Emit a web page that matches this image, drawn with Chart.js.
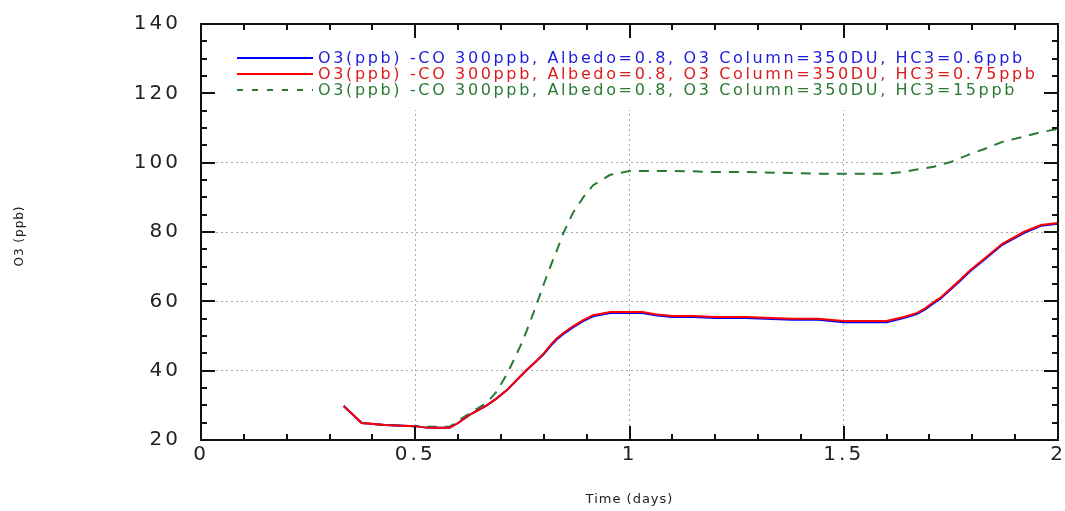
<!DOCTYPE html>
<html>
<head>
<meta charset="utf-8">
<script src="https://cdn.jsdelivr.net/npm/chart.js@4/dist/chart.umd.min.js"></script>
<style>
  html, body { margin: 0; padding: 0; background: #fff; }
  #wrap { width: 1065px; height: 511px; }
</style>
</head>
<body>
<div id="wrap"><canvas id="o3Chart" width="1065" height="511"></canvas></div>
<script>
// Time axis (days) and ozone values
const timeDays = [0.333, 0.375, 0.43, 0.5, 0.53, 0.58, 0.6, 0.63, 0.667, 0.69, 0.714, 0.745, 0.76, 0.78, 0.8, 0.82, 0.83, 0.845, 0.868, 0.892, 0.915, 0.955, 1.0, 1.03, 1.06, 1.1, 1.15, 1.2, 1.27, 1.38, 1.44, 1.5, 1.6, 1.64, 1.67, 1.69, 1.71, 1.725, 1.75, 1.77, 1.795, 1.83, 1.87, 1.92, 1.96, 2.0];

const o3Hc3Low = [29.8, 24.9, 24.3, 24.0, 23.5, 23.5, 24.9, 27.5, 30.0, 32.0, 34.4, 38.3, 40.2, 42.4, 44.8, 47.7, 49.0, 50.5, 52.5, 54.3, 55.7, 56.6, 56.6, 56.6, 56.0, 55.5, 55.5, 55.2, 55.2, 54.7, 54.7, 54.0, 54.0, 55.2, 56.3, 57.7, 59.5, 60.7, 63.5, 65.7, 68.7, 72.2, 76.3, 79.7, 81.8, 82.4];
const o3Hc3Mid = [29.8, 24.9, 24.3, 24.0, 23.5, 23.5, 24.9, 27.5, 30.0, 32.0, 34.4, 38.3, 40.2, 42.5, 45.0, 48.0, 49.3, 50.8, 52.8, 54.6, 56.0, 56.9, 56.9, 56.9, 56.3, 55.8, 55.8, 55.5, 55.5, 55.0, 55.0, 54.3, 54.3, 55.5, 56.6, 58.0, 59.8, 61.0, 63.8, 66.0, 69.0, 72.5, 76.6, 80.0, 82.0, 82.6];
const o3Hc3High = [29.8, 24.9, 24.3, 24.0, 23.8, 23.8, 25.5, 28.0, 30.7, 34.0, 39.0, 47.0, 51.5, 58.0, 65.0, 71.5, 74.5, 79.5, 85.5, 90.0, 93.5, 96.5, 97.6, 97.6, 97.6, 97.6, 97.5, 97.3, 97.3, 97.0, 96.8, 96.8, 96.8, 97.3, 98.0, 98.4, 98.8, 99.4, 100.2, 101.2, 102.5, 104.0, 106.0, 107.5, 108.8, 109.7];

const seriesLabels = [
  'O3(ppb) -CO 300ppb, Albedo=0.8, O3 Column=350DU, HC3=0.6ppb',
  'O3(ppb) -CO 300ppb, Albedo=0.8, O3 Column=350DU, HC3=0.75ppb',
  'O3(ppb) -CO 300ppb, Albedo=0.8, O3 Column=350DU, HC3=15ppb'
];

const xTicks = [0, 0.5, 1, 1.5, 2];
const yTicks = [20, 40, 60, 80, 100, 120, 140];
const xTitle = 'Time (days)';
const yTitle = 'O3 (ppb)';

const lineColors = ['#0000ff', '#ff0000', '#2a7a34'];
const textColors = ['#1c1cdc', '#dc1c1c', '#2a7a34'];
const FONT = "'DejaVu Sans', sans-serif";

const toPoints = (vals) => timeDays.map((t, i) => ({ x: t, y: vals[i] }));

// Plot frame, inward ticks, axis titles and the boxed legend
const framePlugin = {
  id: 'framePlugin',
  beforeDraw(chart) {
    chart.ctx.letterSpacing = '3px';
  },
  beforeDatasetsDraw(chart) {
    const { ctx, chartArea: a } = chart;
    ctx.save();
    ctx.fillStyle = '#ffffff';
    ctx.fillRect(a.left + 2, a.top + 2, a.right - a.left - 4, 84);
    ctx.restore();
  },
  afterDatasetsDraw(chart) {
    const { ctx } = chart;
    ctx.save();
    ctx.font = '16px ' + FONT;
    ctx.textBaseline = 'middle';
    ctx.letterSpacing = '0px';
    const w = ctx.measureText(seriesLabels[0]).width;
    const spacing = (707 - w) / seriesLabels[0].length;
    ctx.letterSpacing = spacing.toFixed(2) + 'px';
    const rows = [58, 74, 90];
    seriesLabels.forEach((label, i) => {
      ctx.strokeStyle = lineColors[i];
      ctx.lineWidth = 2;
      ctx.setLineDash(i === 2 ? [6, 9] : []);
      ctx.beginPath();
      ctx.moveTo(237, rows[i]);
      ctx.lineTo(313, rows[i]);
      ctx.stroke();
      ctx.fillStyle = textColors[i];
      ctx.fillText(label, 318, rows[i] + 1);
    });
    ctx.restore();
  },
  afterDraw(chart) {
    const { ctx, chartArea: a, scales } = chart;
    const xs = scales.x, ys = scales.y;
    ctx.save();
    ctx.strokeStyle = '#111';
    ctx.lineWidth = 2;
    ctx.setLineDash([]);
    ctx.strokeRect(a.left, a.top, a.right - a.left, a.bottom - a.top);
    ctx.beginPath();
    for (let k = 0; k <= 20; k++) {
      const px = Math.round(xs.getPixelForValue(k / 10));
      const len = k % 5 === 0 ? 14 : 6;
      ctx.moveTo(px, a.bottom); ctx.lineTo(px, a.bottom - len);
      ctx.moveTo(px, a.top); ctx.lineTo(px, a.top + len);
    }
    for (let v = 20; v <= 140; v += 5) {
      const py = Math.round(ys.getPixelForValue(v));
      const len = v % 20 === 0 ? 14 : 6;
      ctx.moveTo(a.left, py); ctx.lineTo(a.left + len, py);
      ctx.moveTo(a.right, py); ctx.lineTo(a.right - len, py);
    }
    ctx.stroke();

    // axis titles
    ctx.fillStyle = '#222';
    ctx.letterSpacing = '1px';
    ctx.textAlign = 'center';
    ctx.textBaseline = 'middle';
    ctx.font = '13px ' + FONT;
    ctx.fillText(xTitle, (a.left + a.right) / 2, 500);
    ctx.translate(20, (a.top + a.bottom) / 2 + 4);
    ctx.rotate(-Math.PI / 2);
    ctx.font = '12px ' + FONT;
    ctx.fillText(yTitle, 0, 0);
    ctx.restore();
  }
};

new Chart(document.getElementById('o3Chart'), {
  type: 'line',
  data: {
    datasets: [
      { label: seriesLabels[0], data: toPoints(o3Hc3Low), borderColor: lineColors[0], borderWidth: 2, order: 2 },
      { label: seriesLabels[1], data: toPoints(o3Hc3Mid), borderColor: lineColors[1], borderWidth: 2, order: 1 },
      { label: seriesLabels[2], data: toPoints(o3Hc3High), borderColor: lineColors[2], borderWidth: 2, borderDash: [10, 8], order: 3 }
    ]
  },
  options: {
    responsive: false,
    animation: false,
    layout: { padding: { left: 0, right: 7, top: 24, bottom: 0 } },
    elements: { point: { radius: 0 }, line: { tension: 0 } },
    plugins: { legend: { display: false }, tooltip: { enabled: false } },
    scales: {
      x: {
        type: 'linear',
        min: 0,
        max: 2,
        afterBuildTicks: (s) => { s.ticks = xTicks.map(v => ({ value: v })); },
        afterFit: (s) => { s.height = 71; s.paddingLeft = 0; s.paddingRight = 0; },
        grid: { color: '#a8a8a8', lineWidth: 1, drawTicks: false },
        border: { display: false, dash: [2, 3] },
        ticks: { color: '#222', padding: 3, font: { family: FONT, size: 20 }, callback: (v) => String(v) },
        title: { display: false }
      },
      y: {
        min: 20,
        max: 140,
        afterBuildTicks: (s) => { s.ticks = yTicks.map(v => ({ value: v })); },
        afterFit: (s) => { s.width = 201; s.paddingTop = 0; s.paddingBottom = 0; },
        grid: { color: '#a8a8a8', lineWidth: 1, drawTicks: false },
        border: { display: false, dash: [2, 3] },
        ticks: { color: '#222', padding: 20, font: { family: FONT, size: 20 }, callback: (v) => String(v) },
        title: { display: false }
      }
    }
  },
  plugins: [framePlugin]
});
</script>
</body>
</html>
